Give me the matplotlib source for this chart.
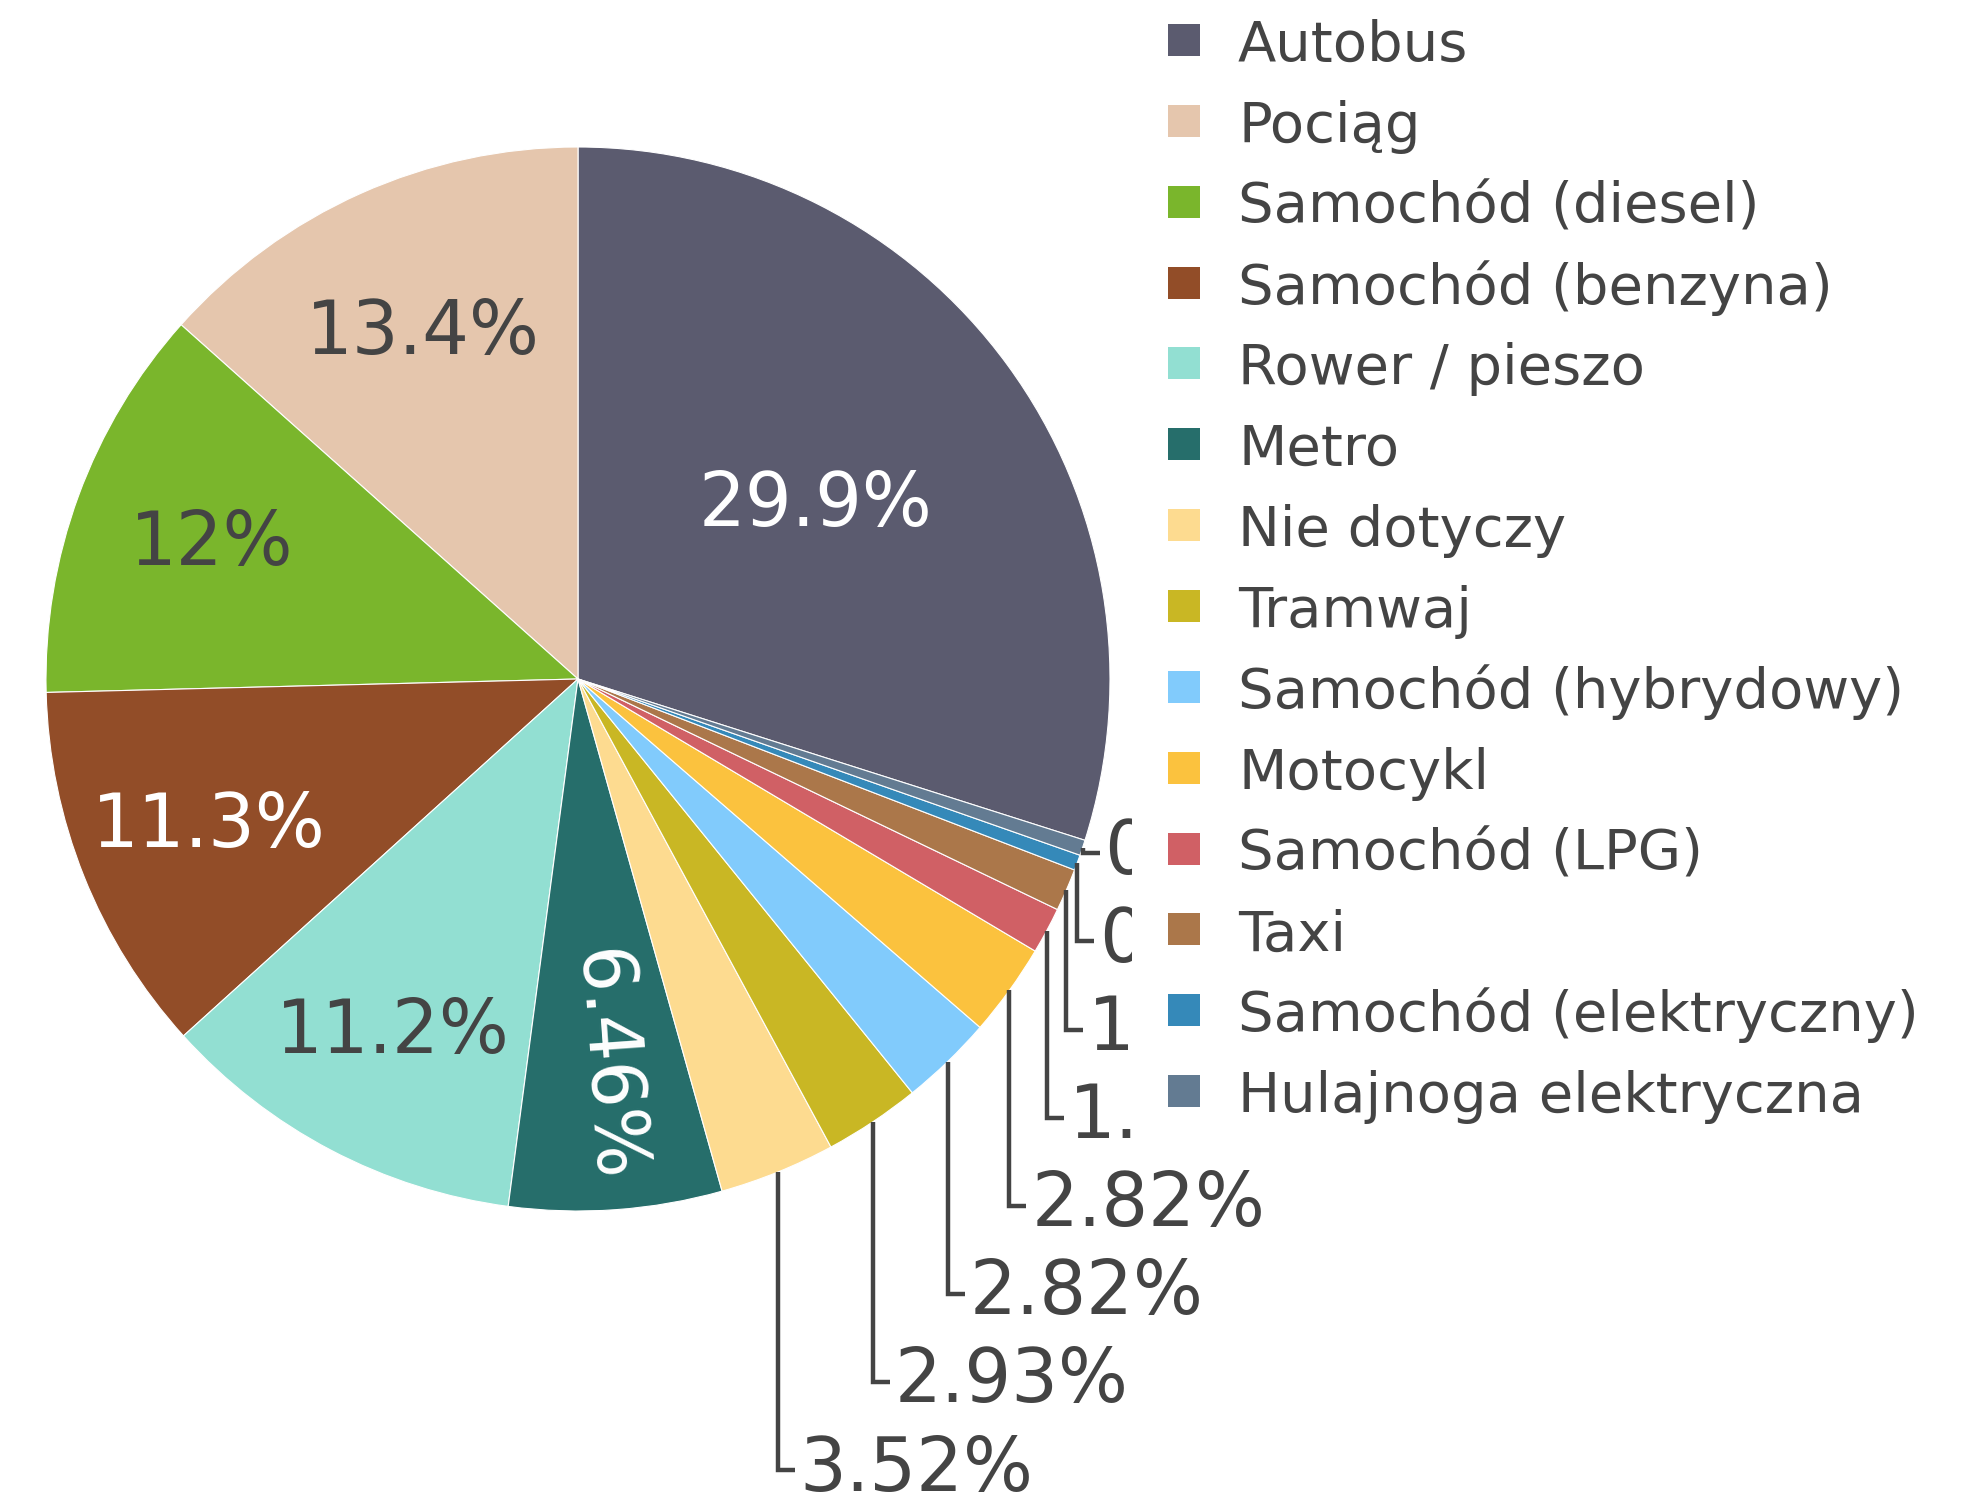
import matplotlib
matplotlib.use("Agg")
import matplotlib.pyplot as plt
from matplotlib.patches import Rectangle
import numpy as np

labels = ["Autobus", "Pociąg", "Samochód (diesel)", "Samochód (benzyna)",
          "Rower / pieszo", "Metro", "Nie dotyczy", "Tramwaj",
          "Samochód (hybrydowy)", "Motocykl", "Samochód (LPG)", "Taxi",
          "Samochód (elektryczny)", "Hulajnoga elektryczna"]
shares = [29.9, 13.4, 12.0, 11.3, 11.2, 6.46, 3.52, 2.93, 2.82, 2.82,
          1.41, 1.29, 0.47, 0.47]
colors = ["#5b5b6f", "#e5c6ad", "#7ab62c", "#924d28", "#92dfd2", "#266e6b",
          "#fddb90", "#c9b724", "#81cbfc", "#fbc23e", "#d06065", "#ab774a",
          "#3589b9", "#637b92"]
# inside labels: dark text on light slices
inside_dark = [False, True, True, False, True, False]
inside_r = [0.554, 0.712, 0.733, 0.748, 0.75, 0.73]

W, H = 1978, 1503
cx, cy, R = 578, 679, 532  # pie centre / radius in pixels
dark = "#444444"

fig = plt.figure(figsize=(W / 100, H / 100), dpi=100)
ax = fig.add_axes([0, 0, 1, 1])

total = sum(shares)
start = 90 - 360 * shares[0] / total
wedges, _ = ax.pie(shares, colors=colors, startangle=start, counterclock=True,
                   radius=1, center=(0, 0),
                   wedgeprops=dict(linewidth=0.8, edgecolor="white"))
ax.set_xlim(-cx / R, (W - cx) / R)
ax.set_ylim(-(H - cy) / R, cy / R)
ax.set_aspect("auto")
ax.axis("off")

mids = [np.deg2rad((w.theta1 + w.theta2) / 2) for w in wedges]

# big slices: labels inside
for i in range(6):
    a = mids[i]
    r = inside_r[i]
    rot = np.rad2deg(a) if labels[i] == "Metro" else 0
    ax.text(r * np.cos(a), r * np.sin(a), "{:.3g}%".format(shares[i]),
            ha="center", va="center", fontsize=53, rotation=rot,
            rotation_mode="anchor",
            color=dark if inside_dark[i] else "white")

# small slices: stacked labels outside with elbow leaders
y0 = (cy - 1470) / R
step = 88.1 / R
for k, i in enumerate(range(6, len(shares))):
    a = mids[i]
    ex, ey = np.cos(a), np.sin(a)
    ly = y0 + k * step
    ax.plot([ex, ex, ex + 17 / R], [ey, ly, ly], color=dark, lw=3.2,
            solid_capstyle="butt", solid_joinstyle="miter")
    ax.text(ex + 22 / R, ly, "{:.3g}%".format(shares[i]), ha="left",
            va="center", fontsize=53, color=dark)

# legend on white background
fig.add_artist(Rectangle((1132 / W, 1 - 1160 / H), (W - 1132) / W, 1160 / H,
                         transform=fig.transFigure, facecolor="white",
                         edgecolor="none", zorder=5))
for k, (lab, col) in enumerate(zip(labels, colors)):
    yc = 40 + 80.85 * k
    fig.add_artist(Rectangle((1168 / W, 1 - (yc + 16) / H), 32 / W, 32 / H,
                             transform=fig.transFigure, facecolor=col,
                             edgecolor="none", zorder=6))
    fig.text(1238 / W, 1 - (yc + 21) / H, lab, ha="left", va="baseline",
             fontsize=40.3, color=dark, zorder=7)

fig.savefig("out.png", dpi=100)
